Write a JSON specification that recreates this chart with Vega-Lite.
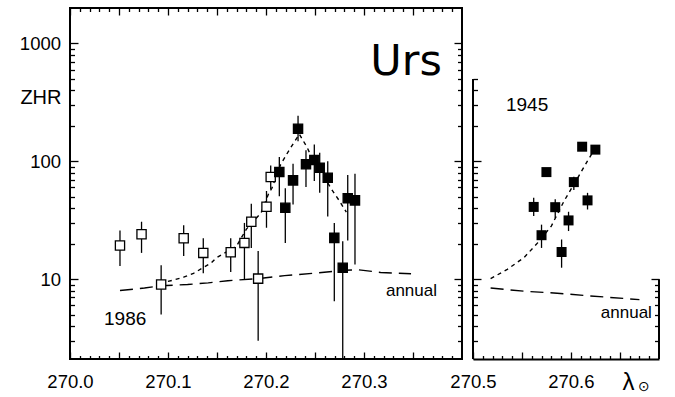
{
  "$schema": "https://vega.github.io/schema/vega-lite/v6.json",
  "padding": {"left": 18, "top": 6, "right": 8, "bottom": 4},
  "bounds": "flush",
  "spacing": 11,
  "datasets": {
    "left_pts": [
      {"lam": 270.051, "zhr": 19.3, "lo": 12.9, "hi": 25.9, "kind": "open"},
      {"lam": 270.073, "zhr": 24.0, "lo": 16.7, "hi": 30.7, "kind": "open"},
      {"lam": 270.093, "zhr": 9.0, "lo": 5.0, "hi": 13.1, "kind": "open"},
      {"lam": 270.116, "zhr": 22.2, "lo": 15.7, "hi": 28.6, "kind": "open"},
      {"lam": 270.136, "zhr": 16.7, "lo": 11.2, "hi": 22.2, "kind": "open"},
      {"lam": 270.164, "zhr": 16.9, "lo": 11.5, "hi": 22.2, "kind": "open"},
      {"lam": 270.178, "zhr": 20.3, "lo": 9.9, "hi": 30.0, "kind": "open"},
      {"lam": 270.185, "zhr": 30.7, "lo": 18.4, "hi": 43.6, "kind": "open"},
      {"lam": 270.192, "zhr": 10.1, "lo": 3.0, "hi": 17.3, "kind": "open"},
      {"lam": 270.2005, "zhr": 41.1, "lo": 27.3, "hi": 56, "kind": "open"},
      {"lam": 270.2048, "zhr": 73.6, "lo": 58, "hi": 92, "kind": "open"},
      {"lam": 270.2136, "zhr": 81, "lo": 50.5, "hi": 109, "kind": "filled"},
      {"lam": 270.2197, "zhr": 40.3, "lo": 20.3, "hi": 59, "kind": "filled"},
      {"lam": 270.2276, "zhr": 68.9, "lo": 43, "hi": 95.5, "kind": "filled"},
      {"lam": 270.2327, "zhr": 189, "lo": 148, "hi": 243, "kind": "filled"},
      {"lam": 270.2408, "zhr": 94.3, "lo": 60.5, "hi": 124, "kind": "filled"},
      {"lam": 270.2493, "zhr": 102.6, "lo": 68, "hi": 139, "kind": "filled"},
      {"lam": 270.2548, "zhr": 88.3, "lo": 54, "hi": 118, "kind": "filled"},
      {"lam": 270.263, "zhr": 72.6, "lo": 34, "hi": 100, "kind": "filled"},
      {"lam": 270.2697, "zhr": 22.4, "lo": 6.5, "hi": 30, "kind": "filled"},
      {"lam": 270.2783, "zhr": 12.5, "lo": 2.1, "hi": 21, "kind": "filled"},
      {"lam": 270.2834, "zhr": 48.5, "lo": 21.3, "hi": 76.5, "kind": "filled"},
      {"lam": 270.2908, "zhr": 46.6, "lo": 13.3, "hi": 78.5, "kind": "filled"}
    ],
    "left_fit": [
      {"lam": 270.092, "zhr": 9.2}, {"lam": 270.105, "zhr": 9.8}, {"lam": 270.116, "zhr": 10.4},
      {"lam": 270.126, "zhr": 11.2}, {"lam": 270.144, "zhr": 13.7}, {"lam": 270.149, "zhr": 15.1},
      {"lam": 270.170, "zhr": 19.1}, {"lam": 270.180, "zhr": 26.6}, {"lam": 270.195, "zhr": 36.6},
      {"lam": 270.203, "zhr": 54}, {"lam": 270.206, "zhr": 59}, {"lam": 270.215, "zhr": 94},
      {"lam": 270.224, "zhr": 126}, {"lam": 270.234, "zhr": 170}, {"lam": 270.242, "zhr": 131},
      {"lam": 270.246, "zhr": 111}, {"lam": 270.268, "zhr": 56}, {"lam": 270.275, "zhr": 46},
      {"lam": 270.282, "zhr": 37}
    ],
    "left_annual": [
      {"lam": 270.051, "zhr": 8.0}, {"lam": 270.076, "zhr": 8.4}, {"lam": 270.093, "zhr": 8.8},
      {"lam": 270.120, "zhr": 9.0}, {"lam": 270.141, "zhr": 9.3}, {"lam": 270.161, "zhr": 9.7},
      {"lam": 270.192, "zhr": 10.1}, {"lam": 270.219, "zhr": 10.7}, {"lam": 270.253, "zhr": 11.3},
      {"lam": 270.280, "zhr": 11.9}, {"lam": 270.294, "zhr": 12.0}, {"lam": 270.317, "zhr": 11.4},
      {"lam": 270.348, "zhr": 11.1}
    ],
    "right_pts": [
      {"lam": 270.562, "zhr": 41, "lo": 34.3, "hi": 49},
      {"lam": 270.575, "zhr": 81, "lo": 76, "hi": 86},
      {"lam": 270.570, "zhr": 23.6, "lo": 18.4, "hi": 29},
      {"lam": 270.584, "zhr": 40.8, "lo": 33, "hi": 47.6},
      {"lam": 270.5905, "zhr": 17, "lo": 12.5, "hi": 21.7},
      {"lam": 270.5976, "zhr": 31.5, "lo": 25.6, "hi": 37.3},
      {"lam": 270.603, "zhr": 66.6, "lo": 57, "hi": 74},
      {"lam": 270.617, "zhr": 46.6, "lo": 39, "hi": 54},
      {"lam": 270.6115, "zhr": 133, "lo": 125, "hi": 140},
      {"lam": 270.625, "zhr": 125.6, "lo": 118, "hi": 133}
    ],
    "right_fit": [
      {"lam": 270.518, "zhr": 10.1}, {"lam": 270.535, "zhr": 12.1}, {"lam": 270.552, "zhr": 15.2},
      {"lam": 270.566, "zhr": 20.3}, {"lam": 270.580, "zhr": 28.2}, {"lam": 270.593, "zhr": 46},
      {"lam": 270.608, "zhr": 75}, {"lam": 270.617, "zhr": 100.7}, {"lam": 270.622, "zhr": 118}
    ],
    "right_annual": [
      {"lam": 270.518, "zhr": 8.4}, {"lam": 270.552, "zhr": 7.9}, {"lam": 270.586, "zhr": 7.6},
      {"lam": 270.620, "zhr": 7.2}, {"lam": 270.670, "zhr": 6.7}
    ],
    "right_frame": [
      {"lam": 270.5, "lo": 2.1, "hi": 500},
      {"lam": 270.69, "lo": 2.1, "hi": 10}
    ]
  },
  "hconcat": [
    {
      "width": 392,
      "height": 351,
      "view": {"stroke": "black", "strokeWidth": 2},
      "resolve": {"axis": {"x": "independent", "y": "independent"}},
      "layer": [
        {
          "data": {"name": "left_pts"},
          "mark": {"type": "rule", "color": "black", "strokeWidth": 1.3},
          "encoding": {
            "x": {
              "field": "lam", "type": "quantitative",
              "scale": {"domain": [270.0, 270.4], "nice": false, "zero": false},
              "axis": {
                "orient": "bottom", "title": null, "domain": false, "offset": -7, "tickSize": 7,
                "values": [270.0, 270.05, 270.1, 270.15, 270.2, 270.25, 270.3, 270.35],
                "labelExpr": "datum.value < 270.32 && abs(datum.value*10 - round(datum.value*10)) < 0.001 ? format(datum.value, '.1f') : ''",
                "labelPadding": 13
              }
            },
            "y": {
              "field": "lo", "type": "quantitative",
              "scale": {"type": "log", "domain": [2.1, 2000], "nice": false},
              "axis": {
                "orient": "left", "domain": false, "offset": -8, "tickSize": 8,
                "values": [10, 100, 1000],
                "labelExpr": "format(datum.value, 'd')",
                "labelPadding": 9.5,
                "title": "ZHR", "titleAngle": 0, "titleAlign": "right", "titleBaseline": "alphabetic",
                "titleX": -17, "titleY": 95, "titleFontSize": 20, "titleFontWeight": "normal"
              }
            },
            "y2": {"field": "hi"}
          }
        },
        {
          "data": {"name": "left_annual"},
          "mark": {"type": "line", "color": "black", "strokeWidth": 1.4, "strokeDash": [13, 7]},
          "encoding": {
            "x": {
              "field": "lam", "type": "quantitative",
              "axis": {
                "orient": "bottom", "title": null, "labels": false, "domain": false, "offset": -3.5, "tickSize": 3.5,
                "values": [270.01, 270.02, 270.03, 270.04, 270.06, 270.07, 270.08, 270.09,
                           270.11, 270.12, 270.13, 270.14, 270.16, 270.17, 270.18, 270.19,
                           270.21, 270.22, 270.23, 270.24, 270.26, 270.27, 270.28, 270.29,
                           270.31, 270.32, 270.33, 270.34, 270.36, 270.37, 270.38, 270.39]
              }
            },
            "y": {
              "field": "zhr", "type": "quantitative",
              "axis": {
                "orient": "left", "title": null, "labels": false, "domain": false, "offset": -4.5, "tickSize": 4.5,
                "values": [3, 4, 5, 6, 7, 8, 9, 20, 30, 40, 50, 60, 70, 80, 90, 200, 300, 400, 500, 600, 700, 800, 900]
              }
            }
          }
        },
        {
          "data": {"name": "left_fit"},
          "mark": {"type": "line", "color": "black", "strokeWidth": 1.4, "strokeDash": [4, 4]},
          "encoding": {
            "x": {
              "field": "lam", "type": "quantitative",
              "axis": {
                "orient": "top", "title": null, "labels": false, "domain": false, "offset": -7, "tickSize": 7,
                "values": [270.0, 270.05, 270.1, 270.15, 270.2, 270.25, 270.3, 270.35]
              }
            },
            "y": {
              "field": "zhr", "type": "quantitative",
              "axis": {
                "orient": "right", "title": null, "labels": false, "domain": false, "offset": -8, "tickSize": 8,
                "values": [10, 100, 1000]
              }
            }
          }
        },
        {
          "data": {"name": "left_pts"},
          "mark": {"type": "point", "shape": "square", "filled": true, "opacity": 1, "size": 85, "stroke": "black", "strokeWidth": 1.3},
          "encoding": {
            "x": {
              "field": "lam", "type": "quantitative",
              "axis": {
                "orient": "top", "title": null, "labels": false, "domain": false, "offset": -3.5, "tickSize": 3.5,
                "values": [270.01, 270.02, 270.03, 270.04, 270.06, 270.07, 270.08, 270.09,
                           270.11, 270.12, 270.13, 270.14, 270.16, 270.17, 270.18, 270.19,
                           270.21, 270.22, 270.23, 270.24, 270.26, 270.27, 270.28, 270.29,
                           270.31, 270.32, 270.33, 270.34, 270.36, 270.37, 270.38, 270.39]
              }
            },
            "y": {
              "field": "zhr", "type": "quantitative",
              "axis": {
                "orient": "right", "title": null, "labels": false, "domain": false, "offset": -4.5, "tickSize": 4.5,
                "values": [3, 4, 5, 6, 7, 8, 9, 20, 30, 40, 50, 60, 70, 80, 90, 200, 300, 400, 500, 600, 700, 800, 900]
              }
            },
            "fill": {"field": "kind", "type": "nominal", "scale": {"domain": ["open", "filled"], "range": ["white", "black"]}, "legend": null}
          }
        },
        {
          "data": {"values": [{"lam": 270.343, "zhr": 540, "txt": "Urs"}]},
          "mark": {"type": "text", "align": "center", "baseline": "alphabetic", "fontSize": 43, "font": "DejaVu Sans", "color": "black"},
          "encoding": {
            "x": {"field": "lam", "type": "quantitative", "axis": null},
            "y": {"field": "zhr", "type": "quantitative", "axis": null},
            "text": {"field": "txt"}
          }
        },
        {
          "data": {"values": [{"lam": 270.0347, "zhr": 4.06, "txt": "1986"}]},
          "mark": {"type": "text", "align": "left", "baseline": "alphabetic", "fontSize": 19, "color": "black"},
          "encoding": {
            "x": {"field": "lam", "type": "quantitative", "axis": null},
            "y": {"field": "zhr", "type": "quantitative", "axis": null},
            "text": {"field": "txt"}
          }
        },
        {
          "data": {"values": [{"lam": 270.3224, "zhr": 7.16, "txt": "annual"}]},
          "mark": {"type": "text", "align": "left", "baseline": "alphabetic", "fontSize": 17, "color": "black"},
          "encoding": {
            "x": {"field": "lam", "type": "quantitative", "axis": null},
            "y": {"field": "zhr", "type": "quantitative", "axis": null},
            "text": {"field": "txt"}
          }
        }
      ]
    },
    {
      "width": 186,
      "height": 351,
      "resolve": {"axis": {"x": "independent", "y": "independent"}},
      "layer": [
        {
          "data": {"name": "right_pts"},
          "mark": {"type": "rule", "color": "black", "strokeWidth": 1.3},
          "encoding": {
            "x": {
              "field": "lam", "type": "quantitative",
              "scale": {"domain": [270.5, 270.69], "nice": false, "zero": false},
              "axis": {
                "orient": "bottom", "domain": false, "offset": -7, "tickSize": 7,
                "values": [270.5, 270.55, 270.6, 270.65],
                "labelExpr": "abs(datum.value*10 - round(datum.value*10)) < 0.001 ? format(datum.value, '.1f') : ''",
                "labelPadding": 13,
                "title": "λ", "titleFontSize": 24, "titleFontWeight": "normal", "titleAlign": "center",
                "titleBaseline": "alphabetic", "titleX": 155, "titleY": 37
              }
            },
            "y": {
              "field": "lo", "type": "quantitative",
              "scale": {"type": "log", "domain": [2.1, 2000], "nice": false},
              "axis": {
                "orient": "left", "title": null, "labels": false, "domain": false, "offset": -8, "tickSize": 8,
                "values": [10, 100]
              }
            },
            "y2": {"field": "hi"}
          }
        },
        {
          "data": {"name": "right_frame"},
          "mark": {"type": "rule", "color": "black", "strokeWidth": 2},
          "encoding": {
            "x": {
              "field": "lam", "type": "quantitative",
              "axis": {
                "orient": "bottom", "title": null, "labels": false, "domain": false, "offset": -3.5, "tickSize": 3.5,
                "values": [270.51, 270.52, 270.53, 270.54, 270.56, 270.57, 270.58, 270.59,
                           270.61, 270.62, 270.63, 270.64, 270.66, 270.67, 270.68]
              }
            },
            "y": {
              "field": "lo", "type": "quantitative",
              "axis": {
                "orient": "left", "title": null, "labels": false, "domain": false, "offset": -4.5, "tickSize": 4.5,
                "values": [3, 4, 5, 6, 7, 8, 9, 20, 30, 40, 50, 60, 70, 80, 90, 200, 300, 400, 500]
              }
            },
            "y2": {"field": "hi"}
          }
        },
        {
          "data": {"name": "right_annual"},
          "mark": {"type": "line", "color": "black", "strokeWidth": 1.4, "strokeDash": [13, 7]},
          "encoding": {
            "x": {
              "field": "lam", "type": "quantitative",
              "axis": {"orient": "bottom", "title": null, "labels": false, "ticks": false, "domain": true}
            },
            "y": {
              "field": "zhr", "type": "quantitative",
              "axis": {
                "orient": "right", "title": null, "labels": false, "domain": false, "offset": -8, "tickSize": 8,
                "values": [10]
              }
            }
          }
        },
        {
          "data": {"name": "right_fit"},
          "mark": {"type": "line", "color": "black", "strokeWidth": 1.4, "strokeDash": [4, 4]},
          "encoding": {
            "x": {"field": "lam", "type": "quantitative", "axis": null},
            "y": {
              "field": "zhr", "type": "quantitative",
              "axis": {
                "orient": "right", "title": null, "labels": false, "domain": false, "offset": -4.5, "tickSize": 4.5,
                "values": [3, 4, 5, 6, 7, 8, 9]
              }
            }
          }
        },
        {
          "data": {"name": "right_pts"},
          "mark": {"type": "point", "shape": "square", "filled": true, "opacity": 1, "size": 100, "color": "black"},
          "encoding": {
            "x": {"field": "lam", "type": "quantitative", "axis": null},
            "y": {"field": "zhr", "type": "quantitative", "axis": null}
          }
        },
        {
          "data": {"values": [{"lam": 270.5337, "zhr": 268, "txt": "1945"}]},
          "mark": {"type": "text", "align": "left", "baseline": "alphabetic", "fontSize": 19, "color": "black"},
          "encoding": {
            "x": {"field": "lam", "type": "quantitative", "axis": null},
            "y": {"field": "zhr", "type": "quantitative", "axis": null},
            "text": {"field": "txt"}
          }
        },
        {
          "data": {"values": [{"lam": 270.6306, "zhr": 4.66, "txt": "annual"}]},
          "mark": {"type": "text", "align": "left", "baseline": "alphabetic", "fontSize": 17, "color": "black"},
          "encoding": {
            "x": {"field": "lam", "type": "quantitative", "axis": null},
            "y": {"field": "zhr", "type": "quantitative", "axis": null},
            "text": {"field": "txt"}
          }
        },
        {
          "data": {"values": [{"lam": 270.6745, "zhr": 1.21, "txt": "⊙"}]},
          "mark": {"type": "text", "align": "center", "baseline": "middle", "fontSize": 14, "font": "DejaVu Sans", "color": "black"},
          "encoding": {
            "x": {"field": "lam", "type": "quantitative", "axis": null},
            "y": {"field": "zhr", "type": "quantitative", "axis": null},
            "text": {"field": "txt"}
          }
        }
      ]
    }
  ],
  "config": {
    "font": "Liberation Sans",
    "view": {"stroke": null},
    "axis": {
      "grid": false,
      "domainColor": "black",
      "domainWidth": 2,
      "tickColor": "black",
      "tickWidth": 1.3,
      "labelColor": "black",
      "labelFontSize": 18.5,
      "labelFlush": false,
      "labelOverlap": false,
      "labelBound": false,
      "titleColor": "black"
    }
  }
}
